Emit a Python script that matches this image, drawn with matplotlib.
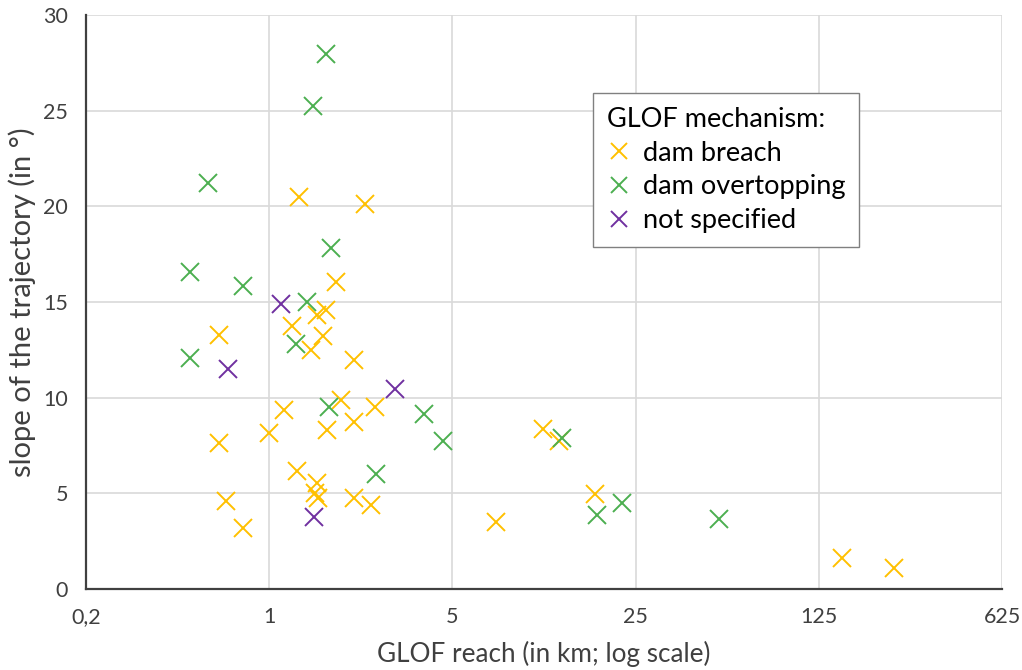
import matplotlib
matplotlib.use("Agg")
import matplotlib.pyplot as plt
from matplotlib.ticker import FixedLocator, FixedFormatter, NullLocator

plt.rcParams['font.family'] = ['Lato', 'DejaVu Sans']

# ---- data (GLOF reach in km, slope in degrees) ----
breach_x = [1.294, 2.324, 1.800, 1.648, 1.526, 1.221, 0.644, 1.600, 1.444, 2.114,
            1.880, 1.141, 2.523, 2.114, 1.666, 0.995, 0.644, 1.273, 1.526, 1.50,
            1.53, 0.683, 2.10, 2.435, 0.797, 11.11, 12.76, 17.52, 7.32, 152.6, 241.0]
breach_y = [20.47, 20.13, 16.06, 14.6, 14.32, 13.75, 13.30, 13.23, 12.49, 11.97,
            9.88, 9.36, 9.53, 8.71, 8.31, 8.14, 7.62, 6.18, 5.56, 5.0,
            4.74, 4.62, 4.74, 4.39, 3.20, 8.36, 7.74, 4.95, 3.49, 1.64, 1.08]

overtop_x = [1.648, 1.473, 0.586, 1.717, 0.497, 0.797, 1.389, 1.265, 0.497, 1.697,
             3.89, 4.60, 2.558, 13.06, 17.78, 22.2, 51.9]
overtop_y = [27.95, 25.25, 21.24, 17.81, 16.59, 15.86, 15.02, 12.79, 12.09, 9.53,
             9.15, 7.75, 6.01, 7.88, 3.87, 4.48, 3.64]

unspec_x = [1.111, 0.699, 3.008, 1.486]
unspec_y = [14.91, 11.49, 10.44, 3.78]

x_ticks = [0.2, 1, 5, 25, 125, 625]
x_tick_labels = ['0,2', '1', '5', '25', '125', '625']
y_ticks = [0, 5, 10, 15, 20, 25, 30]

series_names = ['dam breach', 'dam overtopping', 'not specified']
series_colors = ['#FFC000', '#4CAF50', '#7030A0']

# ---- figure ----
fig = plt.figure(figsize=(10.22, 6.70), dpi=100)
ax = fig.add_axes([86/1022, 1 - 589/670, (1002-86)/1022, (589-15)/670])

ms = 13.5
mew = 1.4
for xs, ys, name, col in zip([breach_x, overtop_x, unspec_x],
                             [breach_y, overtop_y, unspec_y],
                             series_names, series_colors):
    ax.plot(xs, ys, linestyle='none', marker='x', markersize=ms,
            markeredgewidth=mew, color=col, label=name, zorder=3)

ax.set_xscale('log', base=5)
ax.set_xlim(0.2, 625)
ax.set_ylim(0, 30)
ax.xaxis.set_major_locator(FixedLocator(x_ticks))
ax.xaxis.set_major_formatter(FixedFormatter(x_tick_labels))
ax.xaxis.set_minor_locator(NullLocator())
ax.set_yticks(y_ticks)

ax.grid(True, color='#D9D9D9', linewidth=1.2, zorder=0)
ax.set_axisbelow(True)

for s in ['top', 'right']:
    ax.spines[s].set_visible(False)
for s in ['left', 'bottom']:
    ax.spines[s].set_color('#404040')
    ax.spines[s].set_linewidth(1.6)

ax.tick_params(axis='both', length=0, labelsize=15.5, labelcolor='#404040')
ax.tick_params(axis='x', pad=13)
ax.tick_params(axis='y', pad=13)

ax.set_xlabel('GLOF reach (in km; log scale)', fontsize=18.8, color='#404040', labelpad=10)
ax.set_ylabel('slope of the trajectory (in °)', fontsize=21, color='#404040', labelpad=5)

leg = ax.legend(loc='upper left', bbox_to_anchor=(0.5535, 0.864), borderaxespad=0,
                title='GLOF mechanism:',
                fontsize=19.5, title_fontsize=19.5, frameon=True, fancybox=False,
                edgecolor='#808080', framealpha=1, alignment='left',
                handlelength=0.9, handletextpad=0.45, labelspacing=0.33,
                borderpad=0.5, markerscale=0.85)
leg.get_frame().set_linewidth(1.0)

fig.savefig('out.png', dpi=100)
